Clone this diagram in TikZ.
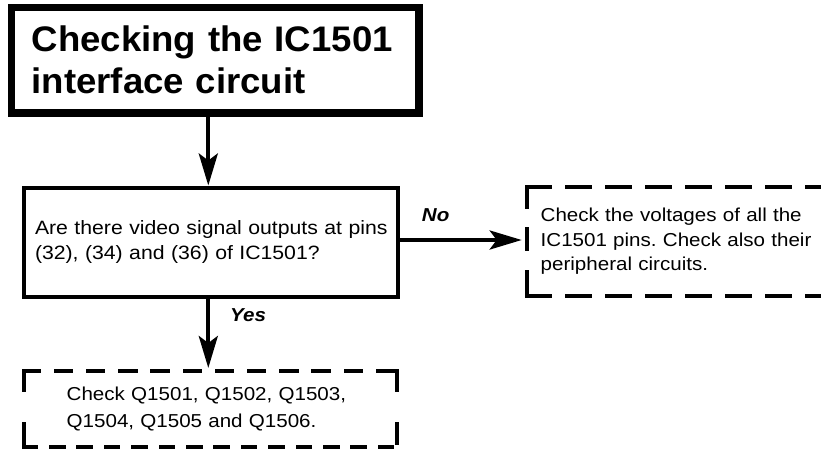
\documentclass[tikz,border=0pt]{standalone}
\usepackage{fontspec}
\setmainfont{Liberation Sans}[FakeStretch=1.1]
\newfontfamily\titlefont{Liberation Sans}[FakeStretch=1.03]
\usetikzlibrary{arrows.meta}
\frenchspacing

\begin{document}
\begin{tikzpicture}[x=1pt,y=-1pt,
  solidbox/.style={draw, line width=4pt, align=left, inner ysep=0pt},
  dashbox/.style={draw=none, outer sep=0pt, align=left, inner ysep=0pt},
  arr/.style={line width=4pt, -{Stealth[length=32pt,width=19pt,inset=7pt]}},
  dside/.style={line width=4pt, line cap=rect, dash pattern=#1},
  lbl/.style={font=\fontsize{18.7}{22}\selectfont\bfseries\itshape, inner sep=0pt, anchor=base west}
]
\useasboundingbox (0,0) rectangle (821,453);
\clip (0,0) rectangle (821,453);
\fill[white] (0,0) rectangle (821,453);

% title box
\node[draw, line width=7.5pt, anchor=west, inner xsep=20.4pt, inner ysep=0pt,
      text width=366.9pt, minimum height=105.7pt, align=left,
      font=\titlefont\bfseries\fontsize{35.5}{42}\selectfont]
  (title) at (7.55,60.15) {\mbox{Checking the IC1501}\\\mbox{interface circuit}};

% question box
\node[solidbox, anchor=west, inner xsep=11pt, text width=352pt, minimum height=109pt,
      font=\fontsize{19.3}{24.3}\selectfont]
  (q) at (22,242) {\mbox{Are there video signal outputs at pins}\\\mbox{(32), (34) and (36) of IC1501?}};

% right (No) box
\node[dashbox, anchor=west, inner xsep=14pt, text width=290pt, minimum height=109.3pt,
      font=\fontsize{18.7}{24.2}\selectfont]
  (r) at (526.7,241.35) {\mbox{Check the voltages of all the}\\\mbox{IC1501 pins. Check also their}\\\mbox{peripheral circuits.}};
\draw[dside={on 20pt off 22.65pt}] (r.north west) -- (r.south west);
\draw[dside={on 23pt off 17pt}] (r.north west) -- (r.north east);
\draw[dside={on 23pt off 17pt}] (r.south west) -- (r.south east);
\draw[dside={on 20pt off 22.65pt}] (r.north east) -- (r.south east);

% bottom (Yes) box
\node[dashbox, anchor=west, inner xsep=43.2pt, text width=286.8pt, minimum height=76pt,
      font=\fontsize{18.7}{26.7}\selectfont]
  (b) at (23.5,409) {\mbox{Check Q1501, Q1502, Q1503,}\\\mbox{Q1504, Q1505 and Q1506.}};
\draw[dside={on 15.5pt off 16.7pt}] (b.north west) -- (b.north east);
\draw[dside={on 12.6pt off 14.8pt}] (b.south west) -- (b.south east);
\draw[dside={on 19pt off 34pt}] (b.north west) -- (b.south west);
\draw[dside={on 19pt off 34pt}] (b.north east) -- (b.south east);

% connectors
\coordinate (ax) at (208.3,0);
\coordinate (ay) at (0,240);
\draw[arr] (title.south -| ax) -- (q.north -| ax);
\draw[arr, shorten >=5pt] (q.east |- ay) -- (r.west |- ay);
\draw[arr, shorten >=3pt] (q.south -| ax) -- (b.north -| ax);

% labels
\node[lbl] (no) at (421.7,221.7) {No};
\node[lbl] (yes) at (230,321.7) {Yes};
\end{tikzpicture}
\end{document}
